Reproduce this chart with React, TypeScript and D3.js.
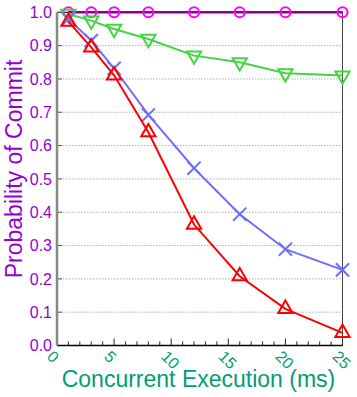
import React from 'react';
import * as d3 from 'd3';

// concurrent execution time (ms)
const execMs = [1, 3, 5, 8, 12, 16, 20, 25];
// probability of commit per series
const seriesCircle = [1, 1, 1, 1, 1, 1, 1, 1];
const seriesDownTri = [0.995, 0.975, 0.95, 0.92, 0.87, 0.85, 0.817, 0.81];
const seriesCross = [0.98, 0.915, 0.832, 0.692, 0.532, 0.394, 0.289, 0.227];
const seriesUpTri = [0.972, 0.895, 0.811, 0.64, 0.363, 0.208, 0.11, 0.038];

const xTicks = [0, 5, 10, 15, 20, 25];
const yTicks = [0, 0.1, 0.2, 0.3, 0.4, 0.5, 0.6, 0.7, 0.8, 0.9, 1.0];

const W = 357;
const H = 397;
const purple = '#9400d3';
const teal = '#009e73';
const font = '"Liberation Sans", Arial, sans-serif';

export default function App() {
  const x = d3.scaleLinear().domain([0, 25]).range([57, 342.5]);
  const y = d3.scaleLinear().domain([0, 1]).range([345.5, 12.3]);

  const line = d3
    .line<number>()
    .x((_, i) => x(execMs[i]))
    .y((d) => y(d));

  const tri = d3.symbol().type(d3.symbolTriangle).size(88);
  const cross = d3.symbol().type(d3.symbolX).size(115);

  const minorX = d3.range(0, 26);

  return (
    <svg
      width={W}
      height={H}
      style={{ position: 'absolute', left: 0, top: 0, background: '#fff' }}
      fontFamily={font}
    >
      {/* grid */}
      {yTicks.slice(1, -1).map((t) => (
        <line
          key={'g' + t}
          x1={x(0)}
          x2={x(25)}
          y1={y(t)}
          y2={y(t)}
          stroke="#b0b0b0"
          strokeWidth={1}
          strokeDasharray="1.5,1.5"
        />
      ))}

      {/* frame */}
      <line x1={x(25)} x2={x(25)} y1={y(1)} y2={y(0)} stroke="#444" strokeWidth={1} />
      <line x1={x(0)} x2={x(25)} y1={y(1)} y2={y(1)} stroke="#000" strokeWidth={1} />

      {/* y ticks */}
      {yTicks.map((t) => (
        <g key={'y' + t}>
          <line x1={x(0)} x2={x(0) + 5} y1={y(t)} y2={y(t)} stroke="#555" strokeWidth={1} />
          <text x={52} y={y(t)} dy="0.36em" textAnchor="end" fontSize={16} fill={purple}>
            {t.toFixed(1)}
          </text>
        </g>
      ))}

      {/* x ticks */}
      {minorX.map((v) => (
        <line
          key={'m' + v}
          x1={x(v)}
          x2={x(v)}
          y1={y(0)}
          y2={y(0) - (v % 5 === 0 ? 7 : 4)}
          stroke="#222"
          strokeWidth={1}
        />
      ))}
      {xTicks.map((t) => (
        <text
          key={'x' + t}
          transform={`translate(${x(t) - 3},${y(0) + 4}) rotate(45)`}
          dy="0.7em"
          textAnchor="start"
          fontSize={16}
          fill={teal}
        >
          {t}
        </text>
      ))}

      <line x1={x(0)} x2={x(25)} y1={y(0)} y2={y(0)} stroke="#000" strokeWidth={1.5} />
      <line x1={x(0)} x2={x(0)} y1={y(1)} y2={y(0)} stroke="#888" strokeWidth={2.5} />

      {/* circles at 1.0 */}
      <path d={line(seriesCircle) ?? ''} fill="none" stroke="#8b008b" strokeWidth={2.5} />
      {seriesCircle.map((v, i) => (
        <circle
          key={'c' + i}
          cx={x(execMs[i])}
          cy={y(v)}
          r={5}
          fill="none"
          stroke="#ff00ff"
          strokeWidth={2}
        />
      ))}

      {/* green down triangles */}
      <path d={line(seriesDownTri) ?? ''} fill="none" stroke="#44d444" strokeWidth={2} />
      {seriesDownTri.map((v, i) => (
        <path
          key={'d' + i}
          d={tri() ?? ''}
          transform={`translate(${x(execMs[i])},${y(v)}) rotate(180)`}
          fill="none"
          stroke="#44d444"
          strokeWidth={2}
        />
      ))}

      {/* blue crosses */}
      <path d={line(seriesCross) ?? ''} fill="none" stroke="#6e6eff" strokeWidth={2} />
      {seriesCross.map((v, i) => (
        <path
          key={'x' + i}
          d={cross() ?? ''}
          transform={`translate(${x(execMs[i])},${y(v)})`}
          fill="none"
          stroke="#6e6eff"
          strokeWidth={2}
        />
      ))}

      {/* red up triangles */}
      <path d={line(seriesUpTri) ?? ''} fill="none" stroke="#ff0000" strokeWidth={2} />
      {seriesUpTri.map((v, i) => (
        <path
          key={'u' + i}
          d={tri() ?? ''}
          transform={`translate(${x(execMs[i])},${y(v)})`}
          fill="none"
          stroke="#ff0000"
          strokeWidth={2}
        />
      ))}

      {/* titles */}
      <text
        transform="translate(22,169) rotate(-90)"
        textAnchor="middle"
        fontSize={23}
        fill={purple}
      >
        Probability of Commit
      </text>
      <text x={198.5} y={387} textAnchor="middle" fontSize={23} fill={teal}>
        Concurrent Execution (ms)
      </text>
    </svg>
  );
}
